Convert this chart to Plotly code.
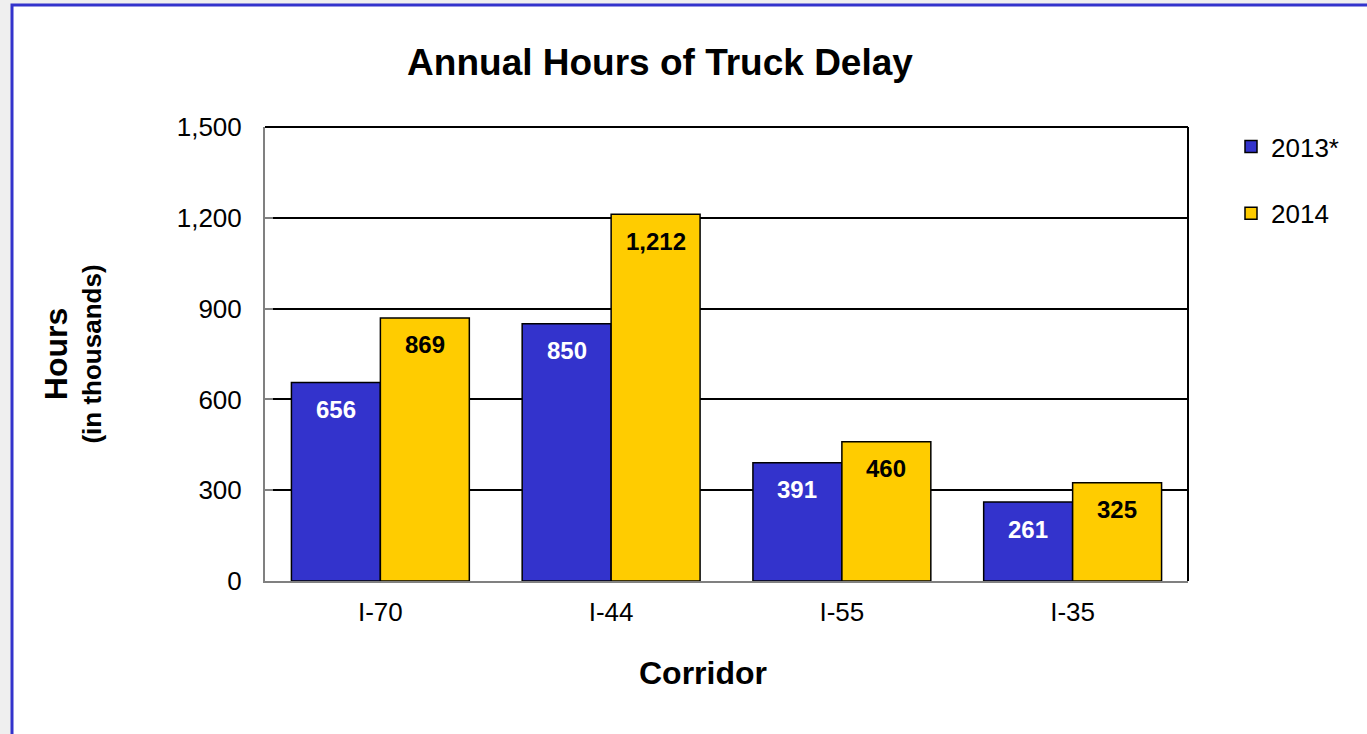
import plotly.graph_objects as go

corridors = ["I-70", "I-44", "I-55", "I-35"]
delay_2013 = [656, 850, 391, 261]
delay_2014 = [869, 1212, 460, 325]
series_names = ["2013*", "2014"]
y_ticks = [0, 300, 600, 900, 1200, 1500]

W, H = 1367, 734
L, R, T, B = 265, 1188, 127, 581

def px(x):
    return (x - L) / (R - L)

def py(y):
    return (B - y) / (B - T)

FONT = "Liberation Sans, Arial, sans-serif"
BAR_HALF_PX = 44.5  # half width of one bar, in pixels

fig = go.Figure()
fig.add_trace(go.Bar(
    x=corridors, y=delay_2013, name=series_names[0], legendgroup="a",
    marker=dict(color="#3333CC", line=dict(color="black", width=1.5)),
))
fig.add_trace(go.Bar(
    x=corridors, y=delay_2014, name=series_names[1], legendgroup="b",
    marker=dict(color="#FFCC00", line=dict(color="black", width=1.5)),
))

annotations = []
for cat, v in zip(corridors, delay_2013):
    annotations.append(dict(x=cat, y=v, xref="x", yref="y", text=f"<b>{v:,}</b>",
                            showarrow=False, xshift=-BAR_HALF_PX, yshift=-27,
                            yanchor="middle", xanchor="center",
                            font=dict(family=FONT, size=24, color="white")))
for cat, v in zip(corridors, delay_2014):
    annotations.append(dict(x=cat, y=v, xref="x", yref="y", text=f"<b>{v:,}</b>",
                            showarrow=False, xshift=BAR_HALF_PX, yshift=-27,
                            yanchor="middle", xanchor="center",
                            font=dict(family=FONT, size=24, color="black")))
# x-axis title (sits left of the plot centre in the reference)
annotations.append(dict(x=px(703), y=py(673), xref="paper", yref="paper",
                        text="<b>Corridor</b>", showarrow=False,
                        xanchor="center", yanchor="middle",
                        font=dict(family=FONT, size=32, color="black")))

shapes = [
    dict(type="rect", xref="paper", yref="paper", layer="below",
         x0=px(12), x1=px(1400), y0=py(5), y1=py(800),
         line=dict(color="#3333CC", width=3), fillcolor="white"),
    dict(type="line", xref="paper", yref="paper", x0=0, x1=1, y0=1, y1=1,
         line=dict(color="black", width=2)),
    dict(type="line", xref="paper", yref="paper", x0=1, x1=1, y0=0, y1=1,
         line=dict(color="black", width=2)),
]

fig.update_layout(
    width=W, height=H,
    margin=dict(l=L, r=W - R, t=T, b=H - B, pad=0),
    paper_bgcolor="#EFEFEF",
    plot_bgcolor="rgba(0,0,0,0)",
    font=dict(family=FONT, color="black", size=26),
    title=dict(text="<b>Annual Hours of Truck Delay</b>", x=660 / W, xanchor="center",
               y=1 - 62 / H, yanchor="middle", font=dict(size=37, family=FONT)),
    barmode="group", bargap=0.229, bargroupgap=0,
    shapes=shapes,
    annotations=annotations,
    showlegend=True,
    legend=dict(x=px(1231), y=py(123), xanchor="left", yanchor="top",
                font=dict(size=26, family=FONT), tracegroupgap=30,
                bgcolor="rgba(0,0,0,0)", itemwidth=30, traceorder="grouped"),
)
fig.update_xaxes(
    showline=True, linecolor="#808080", linewidth=2, mirror=False,
    ticks="", tickfont=dict(size=26), showgrid=False, ticklabelstandoff=7,
)
fig.update_yaxes(
    range=[0, 1500], tickvals=y_ticks, tickformat=",",
    showline=True, linecolor="#808080", linewidth=2,
    ticks="inside", ticklen=8, tickcolor="#808080", tickwidth=2,
    showgrid=True, gridcolor="black", gridwidth=2, zeroline=False,
    tickfont=dict(size=26), ticklabelstandoff=16,
    title=dict(text="<b><span style='font-size:32px'>Hours</span></b><br><b>(in thousands)</b>",
               font=dict(size=26), standoff=68),
)

fig.write_html("out.html", post_script="document.body.style.margin='0px';",
               config={"displayModeBar": False})
